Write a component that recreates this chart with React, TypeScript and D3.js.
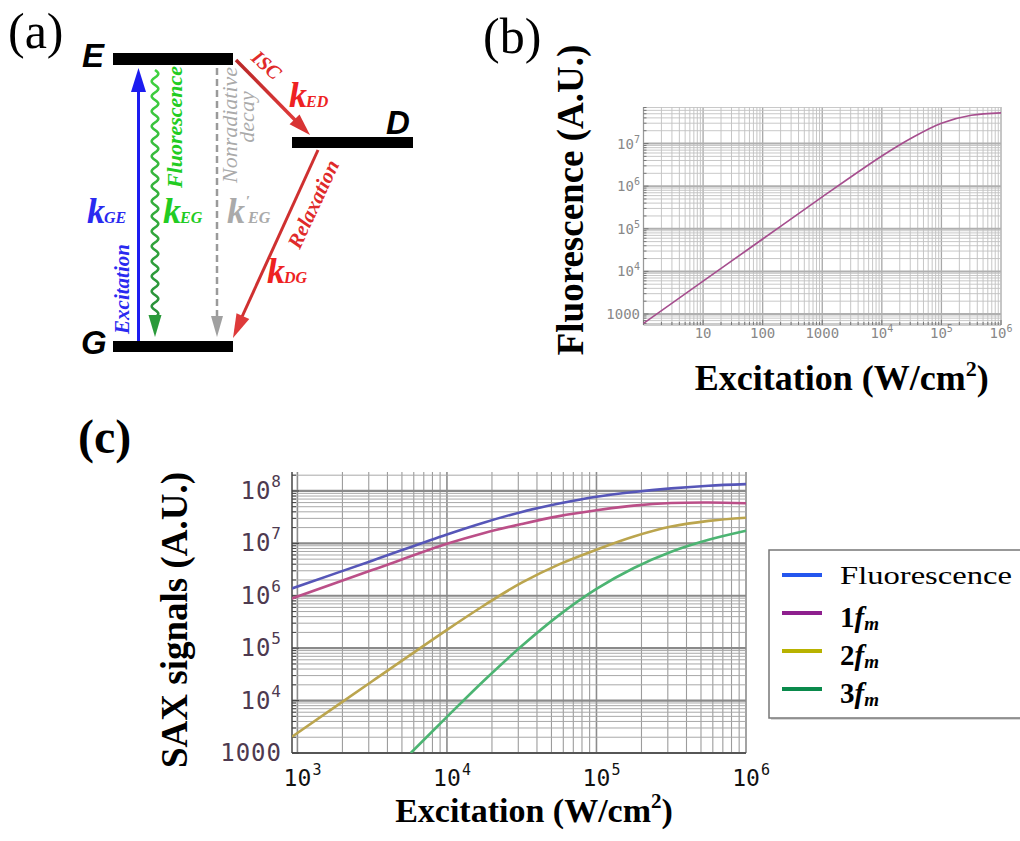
import React from 'react';
import * as d3 from 'd3';

// panel (b): fluorescence vs excitation (single curve)
const excitationB = [1, 10, 100, 1000, 1e4, 3.16e4, 1e5, 3.16e5, 1e6];
const fluorescenceB = [6.0e2, 5.9e3, 5.75e4, 5.6e5, 5.1e6, 1.35e7, 3.0e7, 4.6e7, 5.25e7];

// panel (c): fluorescence and the SAX harmonics
const excitationC = [920, 3162, 1e4, 17783, 31623, 56234, 1e5, 177828, 316228, 562341, 1e6];
const fluorescenceC = [1.38e6, 4.68e6, 1.48e7, 2.51e7, 3.98e7, 5.75e7, 7.76e7, 9.55e7, 1.12e8, 1.26e8, 1.35e8];
const harmonic1 = [8.9e5, 3.09e6, 9.8e6, 1.58e7, 2.34e7, 3.31e7, 4.27e7, 5.25e7, 5.89e7, 6.03e7, 5.82e7];
const harmonic2 = [2.04e3, 2.34e4, 2.24e5, 6.6e5, 1.78e6, 3.98e6, 7.59e6, 1.35e7, 2.09e7, 2.69e7, 3.09e7];
const excitation3 = [5728, 1e4, 17783, 31623, 56234, 1e5, 177828, 316228, 562341, 1e6];
const harmonic3 = [1000, 4.9e3, 2.45e4, 1.1e5, 4.27e5, 1.35e6, 3.39e6, 6.92e6, 1.17e7, 1.74e7];

// tick labels: [value, base, exponent]
const ticksBX: [number, string, string][] = [[10, '10', ''], [100, '100', ''], [1000, '1000', ''], [1e4, '10', '4'], [1e5, '10', '5'], [1e6, '10', '6']];
const ticksBY: [number, string, string][] = [[1000, '1000', ''], [1e4, '10', '4'], [1e5, '10', '5'], [1e6, '10', '6'], [1e7, '10', '7']];
const ticksCX: [number, string, string][] = [[1e3, '10', '3'], [1e4, '10', '4'], [1e5, '10', '5'], [1e6, '10', '6']];
const ticksCY: [number, string, string][] = [[1000, '1000', ''], [1e4, '10', '4'], [1e5, '10', '5'], [1e6, '10', '6'], [1e7, '10', '7'], [1e8, '10', '8']];

const lineColors = ['#5656b8', '#bb4f88', '#bba54e', '#4cb472'];
const legendColors = ['#2456ee', '#8e1f8e', '#b8b200', '#0a8a4c'];
const legendNames = ['Fluorescence', '1', '2', '3'];

const serif = '"Liberation Serif", "Times New Roman", serif';
const mono = '"DejaVu Sans Mono", monospace';
const sans = '"Liberation Sans", Arial, sans-serif';

const isDecade = (v: number) => Math.abs(Math.log10(v) - Math.round(Math.log10(v))) < 1e-9;

// arrow head path from tip, pointing away from (fx, fy)
const head = (tx: number, ty: number, fx: number, fy: number, len: number, wid: number) => {
    const dx = tx - fx, dy = ty - fy;
    const L = Math.hypot(dx, dy);
    const ux = dx / L, uy = dy / L;
    const bx = tx - ux * len, by = ty - uy * len;
    const px = -uy * wid / 2, py = ux * wid / 2;
    return `M${tx},${ty}L${bx + px},${by + py}L${bx - px},${by - py}Z`;
};

const KLabel = ({ x, y, color, sub, prime }: any) => (
    <g>
        <text x={x} y={y} fill={color} fontFamily={serif} fontWeight="bold" fontStyle="italic" fontSize={36}>
            k<tspan fontSize={16} dx={prime ? 3 : -1}>{sub}</tspan>
        </text>
        {prime && <text x={x + 19} y={y - 17} fill={color} fontFamily={serif} fontWeight="bold" fontSize={15}>′</text>}
    </g>
);

const DiagramA = () => {
    // wavy fluorescence line
    const wave = d3.range(70, 318, 0.5).map(y => [155 + 3.3 * Math.sin((y - 70) / 15 * 2 * Math.PI), y] as [number, number]);
    const wavePath = d3.line()(wave) || '';
    return (
        <g>
            <defs>
                <linearGradient id="gGreen" x1="0" y1="0" x2="0" y2="1">
                    <stop offset="0" stopColor="#3fd23f" />
                    <stop offset="1" stopColor="#2a8f3a" />
                </linearGradient>
                <linearGradient id="gRed" x1="0" y1="0" x2="1" y2="1">
                    <stop offset="0" stopColor="#b82828" />
                    <stop offset="1" stopColor="#e03a3a" />
                </linearGradient>
            </defs>
            <text x={8} y={48} fontFamily={serif} fontSize={50}>(a)</text>

            {/* levels */}
            <rect x={113} y={53} width={120} height={12} fill="#000" />
            <rect x={113} y={341} width={120} height={11} fill="#000" />
            <rect x={292} y={137} width={121} height={11} fill="#000" />
            <text x={82} y={67} fontFamily={sans} fontWeight="bold" fontStyle="italic" fontSize={33}>E</text>
            <text x={81} y={354} fontFamily={sans} fontWeight="bold" fontStyle="italic" fontSize={33}>G</text>
            <text x={386} y={134} fontFamily={sans} fontWeight="bold" fontStyle="italic" fontSize={33}>D</text>

            {/* excitation */}
            <line x1={138.5} y1={341} x2={138.5} y2={88} stroke="#1c1cf0" strokeWidth={3} />
            <path d={head(138.5, 68, 138.5, 100, 24, 15)} fill="#1c1cf0" />
            <text transform="translate(129,289) rotate(-90)" textAnchor="middle" fill="#2a2af0" fontFamily={serif} fontStyle="italic" fontWeight="bold" fontSize={21}>Excitation</text>
            <KLabel x={87} y={223} color="#2a2af0" sub="GE" />

            {/* fluorescence */}
            <path d={wavePath} fill="none" stroke="url(#gGreen)" strokeWidth={2.5} />
            <path d={head(155, 337, 155, 300, 22, 13)} fill="#2a9a3a" />
            <text transform="translate(182,127) rotate(-90)" textAnchor="middle" fill="#22cc22" fontFamily={serif} fontStyle="italic" fontWeight="bold" fontSize={22}>Fluorescence</text>
            <KLabel x={163} y={223} color="#22cc22" sub="EG" />

            {/* nonradiative */}
            <line x1={217} y1={68} x2={217} y2={318} stroke="#9a9a9a" strokeWidth={2.5} strokeDasharray="7 4" />
            <path d={head(217, 337, 217, 300, 21, 12)} fill="#a0a0a0" />
            <text transform="translate(237,125) rotate(-90)" textAnchor="middle" fill="#aaaaaa" fontFamily={serif} fontStyle="italic" fontSize={22}>Nonradiative</text>
            <text transform="translate(254,117) rotate(-90)" textAnchor="middle" fill="#aaaaaa" fontFamily={serif} fontStyle="italic" fontSize={22}>decay</text>
            <KLabel x={227} y={223} color="#aaaaaa" sub="EG" prime />

            {/* ISC */}
            <line x1={236} y1={60} x2={296} y2={121} stroke="url(#gRed)" strokeWidth={3.5} />
            <path d={head(310, 135, 236, 60, 22, 14)} fill="#d83434" />
            <text transform="translate(262,70) rotate(42)" textAnchor="middle" fill="#e02a2a" fontFamily={serif} fontStyle="italic" fontWeight="bold" fontSize={20}>ISC</text>
            <KLabel x={289} y={107} color="#ee2222" sub="ED" />

            {/* relaxation */}
            <line x1={318} y1={150} x2={241} y2={319} stroke="#cf3030" strokeWidth={3} />
            <path d={head(233, 338, 318, 150, 24, 14)} fill="#de3a3a" />
            <text transform="translate(313,204) rotate(-65)" textAnchor="middle" dy="0.35em" fill="#e02a2a" fontFamily={serif} fontStyle="italic" fontWeight="bold" fontSize={21}>Relaxation</text>
            <KLabel x={267} y={283} color="#ee2222" sub="DG" />
        </g>
    );
};

const PanelB = () => {
    const x = d3.scaleLog().domain([1, 1e6]).range([643.5, 1001]);
    const y = d3.scaleLog().domain([552, 7.2e7]).range([325, 107]);
    const [x0, x1] = x.range();
    const [y0, y1] = y.range();
    const line = d3.line<number>()
        .x((d, i) => x(excitationB[i]))
        .y(d => y(d))
        .curve(d3.curveCatmullRom);
    return (
        <g>
            <text x={483} y={53} fontFamily={serif} fontSize={50}>(b)</text>
            {x.ticks().map(t => (
                <line key={'vx' + t} x1={x(t)} x2={x(t)} y1={y0} y2={y1}
                    stroke={isDecade(t) ? '#a8a8a8' : '#b8b8b8'} strokeWidth={isDecade(t) ? 1.3 : 0.8} />
            ))}
            {y.ticks().map(t => (
                <line key={'hy' + t} x1={x0} x2={x1} y1={y(t)} y2={y(t)}
                    stroke={isDecade(t) ? '#b0b0b0' : '#c2c2c2'} strokeWidth={isDecade(t) ? 2 : 0.9} />
            ))}
            <line x1={x0} x2={x0} y1={y0} y2={y1} stroke="#999" />
            <line x1={x0} x2={x1} y1={y0} y2={y0} stroke="#999" />
            {x.ticks().map(t => (
                <line key={'tx' + t} x1={x(t)} x2={x(t)} y1={y0} y2={y0 - (isDecade(t) ? 5 : 3)} stroke="#777" />
            ))}
            {y.ticks().map(t => (
                <line key={'ty' + t} x1={x0} x2={x0 + (isDecade(t) ? 5 : 3)} y1={y(t)} y2={y(t)} stroke="#777" />
            ))}
            <path d={line(fluorescenceB) || ''} fill="none" stroke="#a64e8e" strokeWidth={1.6} />
            {ticksBX.map(([v, b, s]) => (
                <text key={'lx' + v} x={x(v)} y={338} textAnchor="middle" fontFamily={mono} fontSize={14} fill="#888">
                    {b}{s && <tspan fontSize={10} dy={-6}>{s}</tspan>}
                </text>
            ))}
            {ticksBY.map(([v, b, s]) => (
                <text key={'ly' + v} x={640} y={y(v) + 5} textAnchor="end" fontFamily={mono} fontSize={14} fill="#888">
                    {b}{s && <tspan fontSize={10} dy={-6}>{s}</tspan>}
                </text>
            ))}
            <text x={841.7} y={390} textAnchor="middle" fontFamily={serif} fontWeight="bold" fontSize={36}>
                Excitation (W/cm<tspan fontSize={22} dy={-14}>2</tspan><tspan dy={14}>)</tspan>
            </text>
            <text transform="translate(583,200) rotate(-90)" textAnchor="middle" fontFamily={serif} fontWeight="bold" fontSize={37}>
                Fluorescence (A.U.)
            </text>
        </g>
    );
};

const PanelC = () => {
    const x = d3.scaleLog().domain([920, 1e6]).range([292, 746]);
    const y = d3.scaleLog().domain([1000, 2.3e8]).range([753, 472]);
    const [x0, x1] = x.range();
    const [y0, y1] = y.range();
    const mk = (xs: number[]) => d3.line<number>()
        .x((d, i) => x(xs[i]))
        .y(d => y(d))
        .curve(d3.curveCatmullRom);
    const series: [number[], number[]][] = [
        [excitationC, fluorescenceC],
        [excitationC, harmonic1],
        [excitationC, harmonic2],
        [excitation3, harmonic3],
    ];
    const legendRows = [575, 613, 651, 689];
    return (
        <g>
            <defs>
                <clipPath id="clipC"><rect x={x0} y={y1} width={x1 - x0 + 2} height={y0 - y1} /></clipPath>
            </defs>
            <text x={78} y={453} fontFamily={serif} fontWeight="bold" fontSize={48}>(c)</text>
            {x.ticks().map(t => (
                <line key={'vx' + t} x1={x(t)} x2={x(t)} y1={y0} y2={y1}
                    stroke={isDecade(t) ? '#8c8c8c' : '#9c9c9c'} strokeWidth={isDecade(t) ? 1.6 : 1.1} />
            ))}
            {y.ticks().map(t => (
                <line key={'hy' + t} x1={x0} x2={x1} y1={y(t)} y2={y(t)}
                    stroke={isDecade(t) ? '#8a8a8a' : '#a8a8a8'} strokeWidth={isDecade(t) ? 2.2 : 1} />
            ))}
            <line x1={x0} x2={x0} y1={y0} y2={y1} stroke="#444" strokeWidth={1.5} />
            <line x1={x0} x2={x1} y1={y0} y2={y0} stroke="#444" strokeWidth={1.5} />
            {y.ticks().map(t => (
                <line key={'ty' + t} x1={x0} x2={x0 + (isDecade(t) ? 7 : 4)} y1={y(t)} y2={y(t)} stroke="#444" />
            ))}
            <g clipPath="url(#clipC)">
                {series.map(([xs, ys], i) => (
                    <path key={'s' + i} d={mk(xs)(ys) || ''} fill="none" stroke={lineColors[i]} strokeWidth={2.6} />
                ))}
            </g>
            {ticksCX.map(([v, b, s]) => (
                <g key={'lx' + v}>
                    <text x={x(v)} y={786} textAnchor="middle" fontFamily={mono} fontSize={23} fill="#111">{b}</text>
                    <text x={x(v) + 15} y={775} fontFamily={mono} fontSize={15} fill="#111">{s}</text>
                </g>
            ))}
            {ticksCY.map(([v, b, s]) => (
                <text key={'ly' + v} x={282} y={y(v) + 8} textAnchor="end" fontFamily={mono} fontSize={24} letterSpacing={1} fill="#4e3a50">
                    {b}{s && <tspan fontSize={16} dy={-12}>{s}</tspan>}
                </text>
            ))}
            <text x={534} y={822} textAnchor="middle" fontFamily={serif} fontWeight="bold" fontSize={34}>
                Excitation (W/cm<tspan fontSize={21} dy={-14}>2</tspan><tspan dy={14}>)</tspan>
            </text>
            <text transform="translate(187,620) rotate(-90)" textAnchor="middle" fontFamily={serif} fontWeight="bold" fontSize={37}>
                SAX signals (A.U.)
            </text>

            {/* legend */}
            <rect x={771} y={552} width={260} height={168} fill="#d8d8d8" />
            <rect x={769} y={550} width={260} height={168} fill="#fff" stroke="#777" strokeWidth={1.5} />
            {legendNames.map((n, i) => (
                <g key={'lg' + i}>
                    <line x1={782} x2={822} y1={legendRows[i]} y2={legendRows[i]} stroke={legendColors[i]} strokeWidth={4} />
                    {i === 0 ? (
                        <text x={840} y={legendRows[i] + 8.5} fontFamily={serif} fontSize={26} textLength={172} lengthAdjust="spacingAndGlyphs">{n}</text>
                    ) : (
                        <text x={840} y={legendRows[i] + 14} fontFamily={serif} fontWeight="bold" fontSize={29}>
                            {n}<tspan fontStyle="italic">f</tspan><tspan fontStyle="italic" fontSize={19} dy={3}>m</tspan>
                        </text>
                    )}
                </g>
            ))}
        </g>
    );
};

const App = () => (
    <svg width={1020} height={841} style={{ position: 'absolute', left: 0, top: 0, background: '#fff' }}>
        <DiagramA />
        <PanelB />
        <PanelC />
    </svg>
);

export default App;
